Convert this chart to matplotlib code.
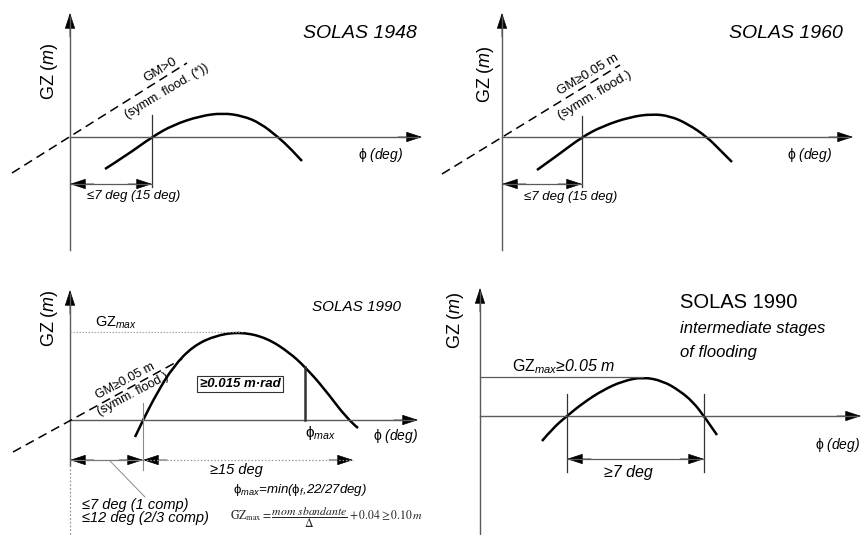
import matplotlib
matplotlib.use("Agg")
import matplotlib.pyplot as plt
from matplotlib.patches import FancyArrowPatch, PathPatch
from matplotlib.path import Path

plt.rcParams["font.family"] = ["Liberation Sans", "DejaVu Sans"]
plt.rcParams["mathtext.fontset"] = "custom"
plt.rcParams["mathtext.rm"] = "Liberation Sans"
plt.rcParams["mathtext.it"] = "Liberation Sans:italic"
plt.rcParams["mathtext.bf"] = "Liberation Sans:bold"
plt.rcParams["mathtext.fallback"] = "stixsans"

W, H = 861, 535

# ---- GZ curves: heel offset from the origin vs righting lever (drawing units) ----
phi_1948 = [35, 57, 82, 103, 130, 153, 173, 190, 208, 220, 232]
gz_1948 = [-32, -18, 0, 12, 21, 24, 21, 14, 0, -11, -24]

phi_1960 = [35, 56, 80, 101, 128, 150, 168, 186, 205, 218, 230]
gz_1960 = [-33, -18, 0, 11, 20, 23, 21, 13, 0, -13, -25]

phi_1990 = [65, 73, 87, 103, 123, 147, 172, 197, 220, 235, 253, 278, 288]
gz_1990 = [-17, 0, 27, 53, 74, 85, 88, 82, 67, 53, 33, 0, -8]

phi_1990i = [62, 73, 87, 103, 123, 143, 163, 183, 200, 213, 224, 237]
gz_1990i = [-25, -12, 0, 13, 26, 35, 39, 35, 25, 14, 0, -19]

# GM slope lines (start, end) and marked angles
gm_1948 = [(-58, -36), (117, 74)]
gm_1960 = [(-60, -37), (118, 72)]
gm_1990 = [(-57, -32), (112, 61)]
phi_zero_1948 = 82
phi_zero_1960 = 80
phi_zero_1990 = 73
phi_end_1990 = 283
phi_max_1990 = 235
gz_max_1990 = 88
phi_range_1990i = [87, 224]
gz_max_1990i = 39

AX_C = "#5a5a5a"
HEAD = "-|>,head_length=0.85,head_width=0.28"

fig = plt.figure(figsize=(W / 100, H / 100), dpi=100)


def panel(region, origin):
    x0, y0, x1, y1 = region
    ox, oy = origin
    ax = fig.add_axes([x0 / W, 1 - y1 / H, (x1 - x0) / W, (y1 - y0) / H])
    ax.set_xlim(x0 - ox, x1 - ox)
    ax.set_ylim(oy - y1, oy - y0)
    ax.axis("off")
    return ax


def head(ax, a, b, color="black"):
    ax.add_patch(FancyArrowPatch(a, b, arrowstyle=HEAD, mutation_scale=12,
                                 color=color, lw=0.5, shrinkA=0, shrinkB=0,
                                 clip_on=False))


def dim_arrow(ax, x_a, x_b, y, ls="-", color=AX_C):
    ax.plot([x_a, x_b], [y, y], color=color, lw=0.9, ls=ls, clip_on=False)
    head(ax, (x_a + 24, y), (x_a, y))
    head(ax, (x_b - 24, y), (x_b, y))


def axes_lines(ax, y_lo, y_hi, x_hi):
    ax.plot([0, 0], [y_lo, y_hi - 4], color=AX_C, lw=1.0, clip_on=False)
    ax.plot([0, x_hi - 4], [0, 0], color=AX_C, lw=1.0, clip_on=False)
    head(ax, (0, y_hi - 24), (0, y_hi))
    head(ax, (x_hi - 24, 0), (x_hi, 0))


def curve(ax, x, y):
    # smooth quadratic-Bezier rendering through the listed points
    pts = list(zip(x, y))
    verts = [pts[0]]
    codes = [Path.MOVETO]
    for i in range(1, len(pts) - 1):
        mid = ((pts[i][0] + pts[i + 1][0]) / 2, (pts[i][1] + pts[i + 1][1]) / 2)
        if i == len(pts) - 2:
            mid = pts[-1]
        verts += [pts[i], mid]
        codes += [Path.CURVE3, Path.CURVE3]
    ax.add_patch(PathPatch(Path(verts, codes), fc="none", ec="black",
                           lw=1.8, capstyle="butt", joinstyle="round",
                           clip_on=False))


def gm_line(ax, seg):
    (xa, ya), (xb, yb) = seg
    ax.plot([xa, xb], [ya, yb], color="black", lw=1.1,
            ls=(0, (6, 3.5)), clip_on=False)


PHI_DEG = r"$\mathrm{\phi}$ (deg)"
GZ_LBL = r"GZ $\mathit{(m)}$"

# ---------------- SOLAS 1948 ----------------
ax = panel((0, 0, 430, 267), (70, 137))
axes_lines(ax, -113, 124, 352)
gm_line(ax, gm_1948)
curve(ax, phi_1948, gz_1948)
ax.plot([phi_zero_1948] * 2, [-50, 22], color="#333333", lw=0.9)
dim_arrow(ax, 0, phi_zero_1948, -47)
ax.text(64, -59, "≤7 deg (15 deg)", style="italic", fontsize=9.5,
        ha="center", va="center")
ax.text(347, 104, "SOLAS 1948", style="italic", fontsize=14,
        ha="right", va="center")
ax.text(-20, 66, GZ_LBL, rotation=90, fontsize=13, ha="center", va="center")
ax.text(288, -18, PHI_DEG, style="italic", fontsize=10, ha="left", va="center")
ax.text(90, 67, "GM>0", rotation=31, fontsize=9.5, ha="center", va="center")
ax.text(97, 46, "(symm. flood. (*))", rotation=31, fontsize=9,
        ha="center", va="center")

# ---------------- SOLAS 1960 ----------------
ax = panel((430, 0, 861, 267), (502, 137))
axes_lines(ax, -113, 124, 351)
gm_line(ax, gm_1960)
curve(ax, phi_1960, gz_1960)
ax.plot([phi_zero_1960] * 2, [-50, 21], color="#333333", lw=0.9)
dim_arrow(ax, 0, phi_zero_1960, -47)
ax.text(69, -60, "≤7 deg (15 deg)", style="italic", fontsize=9.5,
        ha="center", va="center")
ax.text(341, 104, "SOLAS 1960", style="italic", fontsize=14,
        ha="right", va="center")
ax.text(-17, 63, GZ_LBL, rotation=90, fontsize=13, ha="center", va="center")
ax.text(285, -18, PHI_DEG, style="italic", fontsize=10, ha="left", va="center")
ax.text(86, 62, "GM≥0.05 m", rotation=31, fontsize=9.5, ha="center",
        va="center")
ax.text(93, 42, "(symm. flood.)", rotation=31, fontsize=9.5,
        ha="center", va="center")

# ---------------- SOLAS 1990 ----------------
ax = panel((0, 267, 430, 535), (70, 420))
ax.plot([0, 0], [-45, -115], color="#9a9a9a", lw=0.9, ls=(0, (1.5, 1.5)),
        clip_on=False)
axes_lines(ax, -45, 130, 348)
ax.plot([0, 172], [gz_max_1990] * 2, color="#9a9a9a", lw=0.8,
        ls=(0, (1.2, 1.5)))
gm_line(ax, gm_1990)
curve(ax, phi_1990, gz_1990)
ax.plot([phi_max_1990] * 2, [0, 53], color="#333333", lw=1.8)
ax.plot([phi_zero_1990] * 2, [17, -50], color="#8a8a8a", lw=0.8)
dim_arrow(ax, 0, phi_zero_1990, -40, color="#7a7a7a")
dim_arrow(ax, phi_zero_1990, phi_end_1990, -40, ls=(0, (1.2, 1.5)),
          color="#9a9a9a")
ax.plot([40, 75], [-41, -77], color="#8a8a8a", lw=0.7)
ax.text(25, 97, r"$\mathrm{GZ}_{max}$", fontsize=10.5, ha="left", va="center")
ax.text(170, 36, "≥0.015 m·rad", fontweight="bold", style="italic",
        fontsize=9.5, ha="center", va="center",
        bbox=dict(boxstyle="square,pad=0.18", fc="white", ec="#333333", lw=0.8))
ax.text(235, -13, r"$\mathrm{\phi}_{max}$", fontsize=11, ha="left", va="center")
ax.text(303, -16, PHI_DEG, style="italic", fontsize=10, ha="left", va="center")
ax.text(166, -50, "≥15 deg", style="italic", fontsize=10.5, ha="center",
        va="center")
ax.text(163, -70, r"$\mathrm{\phi}_{max}$=min($\mathrm{\phi}_{f}$,22/27deg)",
        style="italic", fontsize=9.5, ha="left", va="center")
ax.text(12, -85, "≤7 deg (1 comp)", style="italic", fontsize=10.5,
        ha="left", va="center")
ax.text(12, -98, "≤12 deg (2/3 comp)", style="italic", fontsize=10.5,
        ha="left", va="center")
ax.text(160, -98,
        r"$\mathrm{GZ}_{\mathrm{max}} = \dfrac{mom\ sbandante}{\Delta}"
        r" + 0.04 \geq 0.10\,m$",
        math_fontfamily="stix", fontsize=8.5, ha="left", va="center",
        color="#222222")
ax.text(242, 113, "SOLAS 1990", style="italic", fontsize=11, ha="left",
        va="center")
ax.text(-20, 102, GZ_LBL, rotation=90, fontsize=13, ha="center", va="center")
ax.text(55, 39, "GM≥0.05 m", rotation=28, fontsize=9, ha="center",
        va="center")
ax.text(63, 26, "(symm. flood.)", rotation=28, fontsize=9, ha="center",
        va="center")

# ---------- SOLAS 1990 intermediate stages ----------
ax = panel((430, 267, 861, 535), (480, 416))
axes_lines(ax, -119, 128, 381)
ax.plot([0, 163], [gz_max_1990i] * 2, color=AX_C, lw=0.9)
curve(ax, phi_1990i, gz_1990i)
for p in phi_range_1990i:
    ax.plot([p, p], [22, -56], color="#333333", lw=0.9)
dim_arrow(ax, phi_range_1990i[0], phi_range_1990i[1], -43)
ax.text(148, -57, "≥7 deg", style="italic", fontsize=11.5, ha="center",
        va="center")
ax.text(32, 49, r"$\mathrm{GZ}_{max}$≥0.05 m", style="italic", fontsize=11.5,
        ha="left", va="center")
ax.text(200, 113, "SOLAS 1990", fontsize=14.5, ha="left", va="center")
ax.text(200, 88, "intermediate stages", style="italic", fontsize=12,
        ha="left", va="center")
ax.text(200, 64, "of flooding", style="italic", fontsize=12, ha="left",
        va="center")
ax.text(-25, 96, GZ_LBL, rotation=90, fontsize=13, ha="center", va="center")
ax.text(335, -29, PHI_DEG, style="italic", fontsize=10, ha="left",
        va="center")

fig.savefig("out.png", dpi=100)
